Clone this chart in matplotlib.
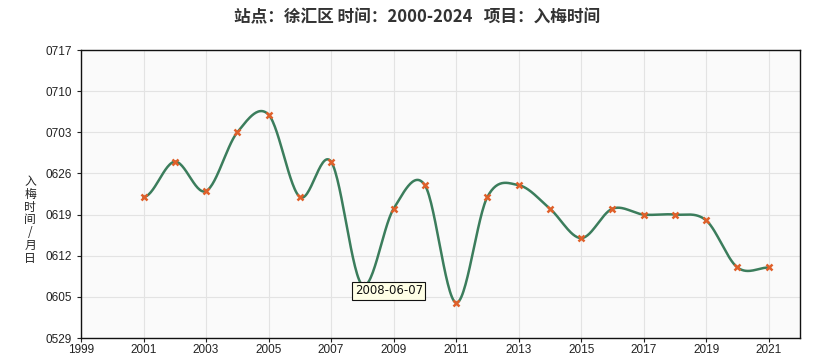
import numpy as np
import matplotlib
matplotlib.use("Agg")
import matplotlib.pyplot as plt
import matplotlib.dates as mdates
from datetime import datetime

plt.rcParams['font.family'] = ['Liberation Sans', 'Noto Sans CJK SC', 'DejaVu Sans']

years = list(range(2001, 2022))
onset = ["0622", "0628", "0623", "0703", "0706", "0622", "0628", "0607", "0620", "0624",
         "0604", "0622", "0624", "0620", "0615", "0620", "0619", "0619", "0618", "0610", "0610"]
title = "站点：徐汇区 时间：2000-2024   项目：入梅时间"
ylabel_chars = "入梅时间/月日"
y_start, y_end = "0529", "0717"
x_start, x_end = 1999, 2022
tooltip_year = 2008

def to_num(s):
    return mdates.date2num(datetime(2000, int(s[:2]), int(s[2:])))

x = np.array(years, dtype=float)
y = np.array([to_num(s) for s in onset])

# Catmull-Rom style smooth curve through the points
def smooth(xp, yp, n=30):
    m = np.zeros_like(yp)
    m[1:-1] = (yp[2:] - yp[:-2]) / (xp[2:] - xp[:-2])
    m[0] = 0.0
    m[-1] = 0.0
    xs, ys = [], []
    for i in range(len(xp) - 1):
        h = xp[i + 1] - xp[i]
        t = np.linspace(0, 1, n, endpoint=False)
        h00 = 2 * t**3 - 3 * t**2 + 1
        h10 = t**3 - 2 * t**2 + t
        h01 = -2 * t**3 + 3 * t**2
        h11 = t**3 - t**2
        xs.append(xp[i] + t * h)
        ys.append(h00 * yp[i] + h10 * h * m[i] + h01 * yp[i + 1] + h11 * h * m[i + 1])
    xs.append([xp[-1]]); ys.append([yp[-1]])
    return np.concatenate(xs), np.concatenate(ys)

fig = plt.figure(figsize=(8.21, 3.57), dpi=100)
ax = fig.add_axes([81/821, 19/357, 719/821, 288/357])
ax.set_facecolor('#fafafa')

sx, sy = smooth(x, y)
ax.plot(sx, sy, color='#3b7d5c', lw=1.8, zorder=3)
ax.plot(x, y, linestyle='none', marker='x', color='#e0602a', ms=4, mew=1.8, zorder=4)

y0, y1 = to_num(y_start), to_num(y_end)
ax.set_ylim(y0, y1)
ax.set_yticks(np.arange(y0, y1 + 0.1, 7))
ax.yaxis.set_major_formatter(mdates.DateFormatter('%m%d'))
ax.set_xlim(x_start, x_end)
ax.set_xticks(range(x_start, x_end, 2))
ax.grid(True, color='#e3e3e3', lw=0.8, zorder=0)
ax.tick_params(labelsize=8.5, colors='#222222', length=3, width=0.8)
ax.tick_params(axis='x', pad=1.5)
for s in ax.spines.values():
    s.set_color('#111111')
    s.set_linewidth(1.0)

# tooltip
ti = years.index(tooltip_year)
d = mdates.num2date(y[ti])
ax.annotate(f"{tooltip_year}-{d.month:02d}-{d.day:02d}", xy=(x[ti], y[ti]),
            xytext=(-5.5, 0.5), textcoords='offset points', ha='left', va='top',
            fontsize=8.5, family='DejaVu Sans', color='#111111', zorder=6,
            bbox=dict(boxstyle='square,pad=0.2', fc='#ffffe6', ec='#111111', lw=0.8))

fig.text(417/821, 1 - 17/357, title, ha='center', va='center', fontsize=12,
         fontweight='bold', color='#333333', family=['Noto Sans CJK SC', 'DejaVu Sans'])
fig.text(30/821, 1 - 220/357, "\n".join(ylabel_chars), ha='center', va='center',
         fontsize=8.5, color='#222222', linespacing=0.98,
         family=['Noto Sans CJK SC', 'DejaVu Sans'])

fig.savefig('out.png', dpi=100)
